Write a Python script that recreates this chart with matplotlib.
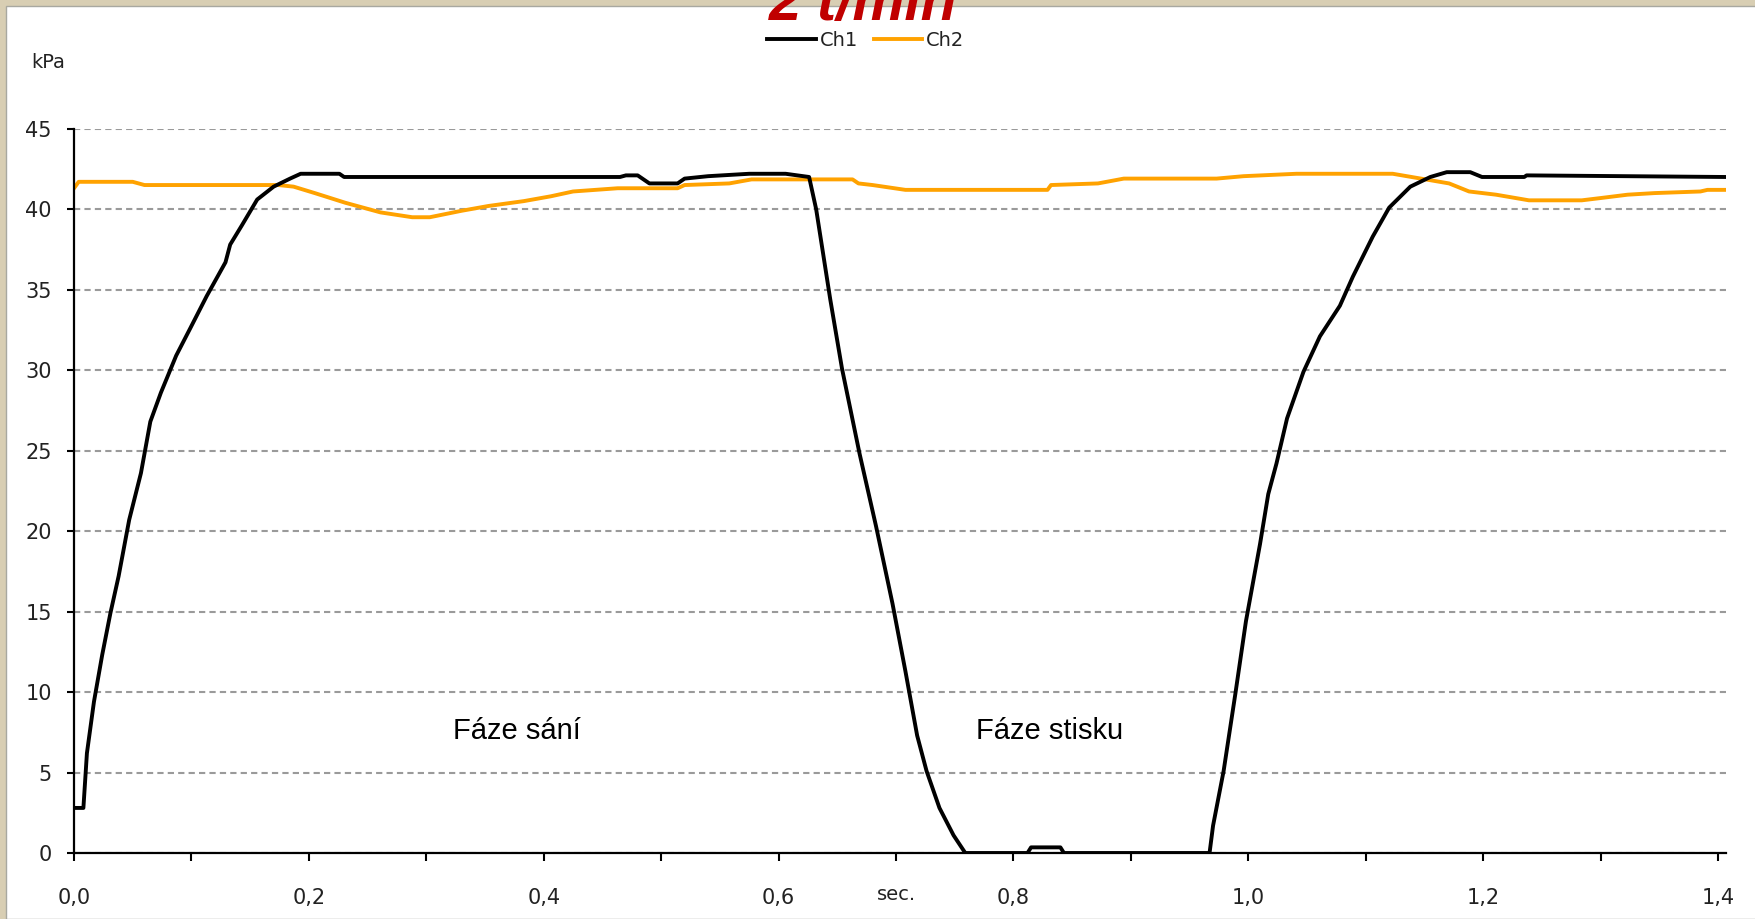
import matplotlib
matplotlib.use("Agg")
import matplotlib.pyplot as plt
from matplotlib.patches import Rectangle
from matplotlib.ticker import MultipleLocator, FuncFormatter

# Ch1 - black curve (time in s, pressure in kPa)
t1 = [0.0, 0.008, 0.011, 0.017, 0.024, 0.031, 0.038, 0.047, 0.057, 0.065,
      0.074, 0.087, 0.099, 0.113, 0.129, 0.133, 0.143, 0.156, 0.170, 0.184,
      0.193, 0.226, 0.230, 0.465, 0.470, 0.480, 0.490, 0.514, 0.520, 0.540,
      0.575, 0.606, 0.626, 0.632, 0.638, 0.644, 0.654, 0.669, 0.683, 0.697,
      0.708, 0.718, 0.726, 0.737, 0.749, 0.759, 0.812, 0.815, 0.840, 0.843,
      0.967, 0.970, 0.979, 0.989, 0.998, 1.010, 1.017, 1.024, 1.033, 1.047,
      1.061, 1.078, 1.089, 1.106, 1.120, 1.138, 1.155, 1.169, 1.189, 1.199,
      1.235, 1.237, 1.406]
ch1 = [2.8, 2.8, 6.2, 9.4, 12.3, 14.9, 17.2, 20.7, 23.6, 26.8,
       28.6, 30.9, 32.6, 34.6, 36.7, 37.8, 39.0, 40.6, 41.4, 41.9,
       42.2, 42.2, 42.0, 42.0, 42.1, 42.1, 41.6, 41.6, 41.9, 42.05,
       42.2, 42.2, 42.0, 40.0, 37.2, 34.4, 30.1, 24.8, 20.3, 15.5,
       11.3, 7.3, 5.1, 2.8, 1.1, 0.0, 0.0, 0.35, 0.35, 0.0,
       0.0, 1.7, 5.1, 9.9, 14.4, 19.2, 22.3, 24.2, 27.0, 29.9,
       32.1, 34.0, 35.8, 38.3, 40.1, 41.4, 42.0, 42.3, 42.3, 42.0,
       42.0, 42.1, 42.0]

# Ch2 - orange curve
t2 = [0.0, 0.004, 0.010, 0.050, 0.060, 0.174, 0.187, 0.205, 0.231, 0.261,
      0.288, 0.303, 0.330, 0.353, 0.383, 0.406, 0.425, 0.463, 0.514, 0.520,
      0.558, 0.577, 0.663, 0.668, 0.680, 0.708, 0.829, 0.832, 0.872, 0.894,
      0.973, 0.996, 1.041, 1.123, 1.143, 1.171, 1.188, 1.211, 1.239, 1.284,
      1.301, 1.323, 1.346, 1.385, 1.391, 1.406]
ch2 = [41.3, 41.7, 41.7, 41.7, 41.5, 41.5, 41.4, 41.0, 40.4, 39.8,
       39.5, 39.5, 39.9, 40.2, 40.5, 40.8, 41.1, 41.3, 41.3, 41.5,
       41.6, 41.85, 41.85, 41.6, 41.5, 41.2, 41.2, 41.5, 41.6, 41.9,
       41.9, 42.05, 42.2, 42.2, 41.95, 41.6, 41.1, 40.9, 40.55, 40.55,
       40.7, 40.9, 41.0, 41.1, 41.2, 41.2]

phases = ["Fáze sání", "Fáze stisku"]
phase_x = [0.377, 0.831]
phase_y = [7.6, 7.6]

fig = plt.figure(figsize=(17.55, 9.19), dpi=100)
fig.patch.set_facecolor("#d8ceb3")
# white panel inside the beige frame
fig.add_artist(Rectangle((6/1755, 0), 1.0, 1 - 6/919, transform=fig.transFigure,
                         facecolor="white", edgecolor="#a8a8a0", linewidth=1.0, zorder=0))

ax = fig.add_axes([74/1755, 1 - 853/919, (1726 - 74)/1755, (853 - 128.7)/919])
ax.set_facecolor("none")

ax.plot(t1, ch1, color="black", lw=2.8, label="Ch1", zorder=3)
ax.plot(t2, ch2, color="#ffa200", lw=2.8, label="Ch2", zorder=2)

ax.set_xlim(0, 1.4068)
ax.set_ylim(0, 45)
ax.xaxis.set_major_locator(MultipleLocator(0.2))
ax.xaxis.set_minor_locator(MultipleLocator(0.1))
ax.yaxis.set_major_locator(MultipleLocator(5))
ax.xaxis.set_major_formatter(FuncFormatter(lambda v, p: f"{v:.1f}".replace(".", ",")))

ax.grid(axis="y", color="#9a9a9a", linestyle=(0, (3, 2)), linewidth=1.5)
ax.set_axisbelow(True)
for s in ["top", "right"]:
    ax.spines[s].set_visible(False)
for s in ["left", "bottom"]:
    ax.spines[s].set_linewidth(1.6)

ax.tick_params(axis="x", which="both", direction="out", length=6, width=1.5, pad=19,
               labelsize=15, labelcolor="#222222")
ax.tick_params(axis="y", direction="out", length=5, width=1.5, pad=11,
               labelsize=15, labelcolor="#222222")

ax.annotate("sec.", xy=(0.7, 0), xycoords=("data", "axes fraction"),
            xytext=(0, -42), textcoords="offset pixels", ha="center", va="center",
            fontsize=14, color="#222222")
fig.text(31/1755, 1 - 63/919, "kPa", fontsize=14, color="#222222", va="center", ha="left")

for name, x, y in zip(phases, phase_x, phase_y):
    ax.text(x, y, name, fontsize=21, family="Liberation Sans", ha="center", va="center")

# red title, cut off by the top edge as in the original screenshot
fig.text(863/1755, 1 - 20/919, "2 t/min", fontsize=42, color="#c00000",
         fontweight="bold", fontstyle="italic", family="Liberation Sans",
         ha="center", va="baseline")

fig.legend(loc="center", bbox_to_anchor=(866/1755, 1 - 40/919), ncol=2, frameon=False,
           fontsize=14, handlelength=2.5, handletextpad=0.2, columnspacing=0.8,
           borderpad=0, labelcolor="#222222")

plt.savefig("out.png", dpi=100, facecolor=fig.get_facecolor())
